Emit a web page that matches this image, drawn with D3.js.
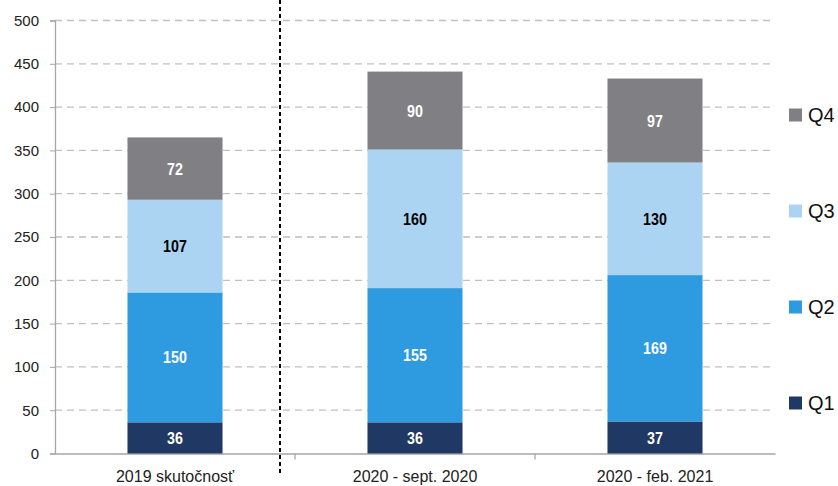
<!DOCTYPE html>
<html><head><meta charset="utf-8">
<script src="https://cdn.jsdelivr.net/npm/d3@7"></script>
<style>body{margin:0;background:#fff}svg{display:block}text{font-family:"Liberation Sans",Arial,sans-serif}</style>
</head><body><svg id="c" width="838" height="486"></svg>
<script>
const categories = ["2019 skutočnosť", "2020 - sept. 2020", "2020 - feb. 2021"];
const seriesNames = ["Q1", "Q2", "Q3", "Q4"];
const q1 = [36, 36, 37];
const q2 = [150, 155, 169];
const q3 = [107, 160, 130];
const q4 = [72, 90, 97];
const yTicks = [0, 50, 100, 150, 200, 250, 300, 350, 400, 450, 500];
const colors = {Q1: "#203864", Q2: "#2e9be0", Q3: "#abd3f2", Q4: "#808084"};
const labelColors = {Q1: "#fff", Q2: "#fff", Q3: "#000", Q4: "#fff"};

const svg = d3.select("#c");
const L = 55, R = 775, T = 20.5, B = 453.5;
const x = d3.scaleBand().domain(categories).range([L, R]).padding(0);
const y = d3.scaleLinear().domain([0, 500]).range([B, T]);
const barW = x.bandwidth() * 0.396;

const rows = categories.map((c, i) => ({cat: c, Q1: q1[i], Q2: q2[i], Q3: q3[i], Q4: q4[i]}));
const stack = d3.stack().keys(seriesNames)(rows);

// gridlines
svg.append("g").selectAll("line").data(yTicks.filter(d => d > 0)).join("line")
  .attr("x1", L).attr("x2", R).attr("y1", d => y(d)).attr("y2", d => y(d))
  .attr("stroke", "#c0c0c0").attr("stroke-width", 1.3).attr("stroke-dasharray", "7,5");

// y axis
const ya = svg.append("g").attr("transform", `translate(${L},0)`)
  .call(d3.axisLeft(y).tickValues(yTicks).tickSize(5).tickPadding(11));
ya.select(".domain").attr("stroke", "#a6a6a6").attr("stroke-width", 1.3);
ya.selectAll(".tick line").attr("stroke", "#a6a6a6");
ya.selectAll("text").attr("font-size", 15).attr("fill", "#222").attr("font-family", "Liberation Sans, Arial, sans-serif");

// x axis
const xa = svg.append("g").attr("transform", `translate(0,${B})`)
  .call(d3.axisBottom(x).tickSize(0).tickPadding(17));
xa.select(".domain").attr("stroke", "#a6a6a6").attr("stroke-width", 1.3);
xa.selectAll("text").attr("font-size", 16).attr("fill", "#222").attr("font-family", "Liberation Sans, Arial, sans-serif");
// category boundary ticks
const bounds = categories.map(c => x(c)).concat([x(categories[categories.length-1]) + x.bandwidth()]);
svg.append("g").selectAll("line").data(bounds.slice(1, 3)).join("line")
  .attr("x1", d => d).attr("x2", d => d).attr("y1", B).attr("y2", B + 6)
  .attr("stroke", "#a6a6a6").attr("stroke-width", 1.3);

// bars
const gs = svg.append("g").selectAll("g").data(stack).join("g").attr("fill", d => colors[d.key]);
gs.selectAll("rect").data(d => d).join("rect")
  .attr("x", d => x(d.data.cat) + x.bandwidth() / 2 - barW / 2)
  .attr("width", barW)
  .attr("y", d => y(d[1])).attr("height", d => y(d[0]) - y(d[1]));

// labels (narrow bold look via horizontal compression)
stack.forEach(s => {
  svg.append("g").selectAll("text").data(s).join("text")
    .attr("transform", d => `translate(${x(d.data.cat) + x.bandwidth() / 2},${(y(d[0]) + y(d[1])) / 2}) scale(0.84,1)`)
    .attr("dy", "0.36em").attr("text-anchor", "middle")
    .attr("font-size", 17).attr("font-weight", "bold")
    .attr("fill", labelColors[s.key])
    .text(d => d[1] - d[0]);
});

// dashed separator
svg.append("line").attr("x1", 280).attr("x2", 280).attr("y1", 0).attr("y2", 474)
  .attr("stroke", "#000").attr("stroke-width", 2).attr("stroke-dasharray", "4,3");

// legend
const legY = {Q4: 115, Q3: 211, Q2: 307, Q1: 403};
const lg = svg.append("g").selectAll("g").data(seriesNames).join("g")
  .attr("transform", d => `translate(789,${legY[d]})`);
lg.append("rect").attr("x", 0).attr("y", -6.5).attr("width", 13).attr("height", 13).attr("fill", d => colors[d]);
lg.append("text").attr("x", 19).attr("dy", "0.36em").attr("font-size", 20).attr("fill", "#111").text(d => d);
</script></body></html>
